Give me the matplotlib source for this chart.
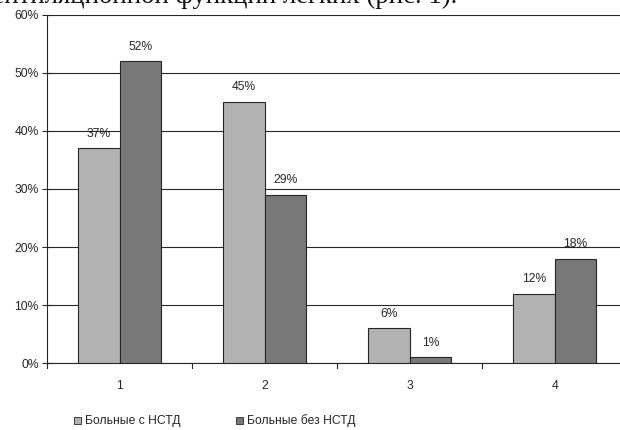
import matplotlib
matplotlib.use('Agg')
import matplotlib.pyplot as plt
import numpy as np

# shares of patients by group, per category
categories = ['1', '2', '3', '4']
with_nstd = [37, 45, 6, 12]
without_nstd = [52, 29, 1, 18]
series_names = ['Больные с НСТД', 'Больные без НСТД']
y_ticks = [0, 10, 20, 30, 40, 50, 60]

light = '#b2b2b2'
dark = '#787878'
ink = '#262626'

W, H = 620, 430
fig = plt.figure(figsize=(W/100, H/100), dpi=100)

# plot area runs slightly past the right edge of the image
x0, x1 = 47, 627.5
y0, y1 = 363.3, 14.6
ax = fig.add_axes([x0/W, (H - y0)/H, (x1 - x0)/W, (y0 - y1)/H])

x = np.arange(len(categories))
bw = 1/3.5
b1 = ax.bar(x - bw/2, with_nstd, bw, color=light, edgecolor=ink, linewidth=0.8, zorder=3)
b2 = ax.bar(x + bw/2, without_nstd, bw, color=dark, edgecolor=ink, linewidth=0.8, zorder=3)

lab_font = dict(family='Liberation Sans', size=8.7, color=ink)
for bars, vals in ((b1, with_nstd), (b2, without_nstd)):
    for r, v in zip(bars, vals):
        ax.text(r.get_x() + r.get_width()/2, v + 2.5, '%d%%' % v,
                ha='center', va='center', zorder=4, **lab_font)

ax.set_xlim(-0.5, len(categories) - 0.5)
ax.set_ylim(0, 60)
ax.set_yticks(y_ticks)
ax.set_yticklabels(['%d%%' % t for t in y_ticks], **lab_font)
ax.yaxis.grid(True, color=ink, linewidth=0.8, zorder=0)
ax.tick_params(axis='y', direction='inout', length=7, width=0.8, color=ink, pad=2.5)

# category labels centred, tick marks between categories
ax.set_xticks(x)
ax.set_xticklabels(categories, **lab_font)
ax.tick_params(axis='x', length=0, pad=12)
for b in np.arange(-0.5, len(categories) - 0.5):
    ax.plot([b, b], [0, -0.75], color=ink, linewidth=0.8, clip_on=False)

for s in ('top', 'right'):
    ax.spines[s].set_visible(False)
for s in ('left', 'bottom'):
    ax.spines[s].set_color(ink)
    ax.spines[s].set_linewidth(0.8)

# legend below the plot
leg = fig.legend([b1, b2], series_names, loc='center left',
                 bbox_to_anchor=(74/W, 9/H), ncol=2, frameon=False,
                 borderpad=0, borderaxespad=0,
                 handlelength=0.55, handleheight=0.55, handletextpad=0.35,
                 columnspacing=4.6, prop={'family': 'Liberation Sans', 'size': 8.7})
for t in leg.get_texts():
    t.set_color(ink)
for p in leg.legend_handles:
    p.set_linewidth(0.6)

# line of body text above the chart, clipped by the top edge;
# sized so that the word "легких" is 77 px wide and starts at x = 283 px
head = 'вентиляционной функции '
tail = 'легких (рис. 1).'
serif = dict(family='Liberation Serif', color='#111111')
r = fig.canvas.get_renderer()
probe = fig.text(0, 0, 'легких', size=20, **serif)
size = 20 * 77 / probe.get_window_extent(r).width
probe.remove()
probe = fig.text(0, 0, head.rstrip() + ' л', size=size, **serif)
w_head = probe.get_window_extent(r).width
probe.set_text('л')
w_head -= probe.get_window_extent(r).width
probe.remove()
fig.text((283 - w_head)/W, 1 - 3/H, head + tail,
         ha='left', va='baseline', size=size, **serif)

fig.savefig('out.png', dpi=100, facecolor='white')
